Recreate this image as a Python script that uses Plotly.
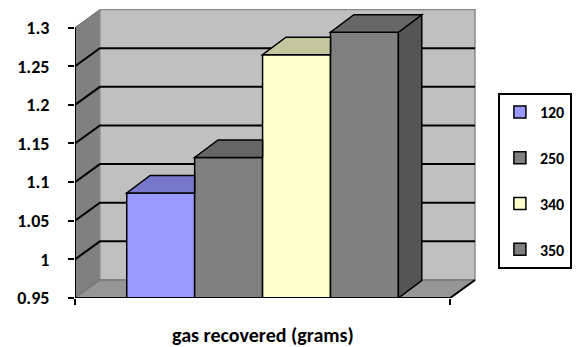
import plotly.graph_objects as go

# ---------------- data ----------------
CATEGORY = "gas recovered (grams)"
SERIES = ["120", "250", "340", "350"]
VALUES = [1.086, 1.132, 1.265, 1.294]
Y_TICKS = [0.95, 1.0, 1.05, 1.1, 1.15, 1.2, 1.25, 1.3]
Y_TICK_TEXT = ["0.95", "1", "1.05", "1.1", "1.15", "1.2", "1.25", "1.3"]

# ---------------- style ----------------
FRONT = ["#9999FF", "#808080", "#FFFFCC", "#808080"]
TOP = ["#7777CC", "#666666", "#C6C69E", "#666666"]
SIDE = ["#6666AA", "#555555", "#A8A888", "#555555"]
FONT = "Calibri, Carlito, Lato, sans-serif"

W, H = 581, 347
ML, MR, MT, MB = 75, 103, 9, 49
PW, PH = W - ML - MR, H - MT - MB
X_UNIT_PX = 377.0          # pixels per category width
Y_UNIT_PX = 772.6          # pixels per 1.0 value
YMIN, YMAX = Y_TICKS[0], Y_TICKS[-1]
x_range = [-0.5, -0.5 + PW / X_UNIT_PX]
y_range = [YMIN, YMIN + PH / Y_UNIT_PX]

# depth offsets (wall / bars)
WDX, WDY = 25 / X_UNIT_PX, 18 / Y_UNIT_PX
BDX, BDY = 23.5 / X_UNIT_PX, 17.5 / Y_UNIT_PX
BARGAP = 1 - 273 / X_UNIT_PX

fig = go.Figure()
for i, (name, v) in enumerate(zip(SERIES, VALUES)):
    fig.add_trace(go.Bar(
        x=[0], y=[v], name=name, legendgroup=name,
        marker=dict(color=FRONT[i], line=dict(color="black", width=1.5)),
        hoverinfo="skip",
    ))

shapes = []


def path(pts):
    return "M " + " L ".join(f"{x},{y}" for x, y in pts) + " Z"


# walls and floor
L0, R0 = -0.5, 0.5
shapes.append(dict(type="path", layer="below", xref="x", yref="y",
                   path=path([(L0, YMIN), (L0 + WDX, YMIN + WDY), (L0 + WDX, YMAX + WDY), (L0, YMAX)]),
                   fillcolor="#808080", line=dict(color="#707070", width=1)))
shapes.append(dict(type="path", layer="below", xref="x", yref="y",
                   path=path([(L0 + WDX, YMIN + WDY), (R0 + WDX, YMIN + WDY), (R0 + WDX, YMAX + WDY), (L0 + WDX, YMAX + WDY)]),
                   fillcolor="#C0C0C0", line=dict(color="#8A8A8A", width=1.5)))
shapes.append(dict(type="path", layer="below", xref="x", yref="y",
                   path=path([(L0, YMIN), (R0, YMIN), (R0 + WDX, YMIN + WDY), (L0 + WDX, YMIN + WDY)]),
                   fillcolor="#969696", line=dict(color="#6A6A6A", width=1)))
# gridlines
for v in Y_TICKS[1:-1]:
    shapes.append(dict(type="path", layer="below", xref="x", yref="y",
                       path=f"M {L0},{v} L {L0 + WDX},{v + WDY} L {R0 + WDX},{v + WDY}",
                       line=dict(color="black", width=2)))
# floor right edge + front edge, axis line
shapes.append(dict(type="line", layer="above", xref="x", yref="y",
                   x0=R0, y0=YMIN, x1=R0 + WDX, y1=YMIN + WDY, line=dict(color="black", width=2)))
shapes.append(dict(type="line", layer="above", xref="x", yref="y",
                   x0=L0, y0=YMIN, x1=R0, y1=YMIN, line=dict(color="black", width=2)))
shapes.append(dict(type="line", layer="above", xref="x", yref="y",
                   x0=L0, y0=YMIN, x1=L0, y1=YMAX, line=dict(color="black", width=2)))

# 3D faces of bars
n = len(VALUES)
bw = (1 - BARGAP) / n
for i, v in enumerate(VALUES):
    L = -(1 - BARGAP) / 2 + i * bw
    R = L + bw
    hidden_right = i < n - 1 and VALUES[i + 1] >= v + BDY
    if hidden_right:
        top = [(L, v), (R, v), (R, v + BDY), (L + BDX, v + BDY)]
    else:
        top = [(L, v), (R, v), (R + BDX, v + BDY), (L + BDX, v + BDY)]
        shapes.append(dict(type="path", layer="above", xref="x", yref="y",
                           path=path([(R, YMIN), (R + BDX, YMIN + BDY), (R + BDX, v + BDY), (R, v)]),
                           fillcolor=SIDE[i], line=dict(color="black", width=1.5)))
    shapes.append(dict(type="path", layer="above", xref="x", yref="y",
                       path=path(top), fillcolor=TOP[i], line=dict(color="black", width=1.5)))

fig.update_layout(
    width=W, height=H, autosize=False,
    margin=dict(l=ML, r=MR, t=MT, b=MB, pad=0),
    paper_bgcolor="white", plot_bgcolor="white",
    barmode="group", bargap=BARGAP, bargroupgap=0,
    font=dict(family=FONT, size=16, color="black", weight="bold"),
    shapes=shapes,
    showlegend=True,
    legend=dict(x=(500 - ML) / PW, xanchor="left", y=(H - MB - 93) / PH, yanchor="top",
                bgcolor="white", bordercolor="black", borderwidth=2,
                font=dict(family=FONT, size=16, color="black", weight="bold"),
                tracegroupgap=22, itemwidth=30),
    annotations=[dict(text=CATEGORY, x=0, xref="x", y=0, yref="paper", yshift=-37,
                      showarrow=False, xanchor="center", yanchor="middle",
                      font=dict(family=FONT, size=20, color="black", weight="bold"))],
)
fig.update_xaxes(range=x_range, showgrid=False, zeroline=False, showline=False,
                 tickmode="array", tickvals=[-0.5, 0.5], ticktext=["", ""],
                 ticks="outside", ticklen=6, tickwidth=2, tickcolor="black")
fig.update_yaxes(range=y_range, showgrid=False, zeroline=False, showline=False,
                 tickmode="array", tickvals=Y_TICKS, ticktext=Y_TICK_TEXT,
                 ticks="outside", ticklen=6, tickwidth=2, tickcolor="black",
                 ticklabelstandoff=15,
                 tickfont=dict(family=FONT, size=18, color="black", weight="bold"))

fig.write_html("out.html", config={"displayModeBar": False},
               post_script="document.body.style.margin='0';")
